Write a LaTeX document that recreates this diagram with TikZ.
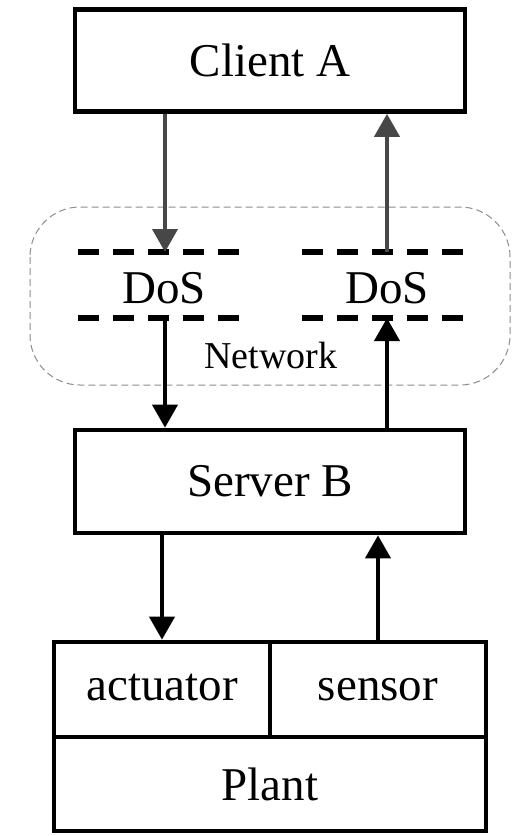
\documentclass[tikz,border=0pt]{standalone}
\usepackage{fontspec}
\setmainfont{Liberation Serif}
\usetikzlibrary{arrows.meta}

\tikzset{
  blk/.style={draw, line width=2.3pt, minimum width=195pt, minimum height=51pt,
    inner sep=0pt, font=\fontsize{23.5}{28}\selectfont},
  cell/.style={blk, minimum width=108pt, minimum height=47.5pt,
    text height=16pt, text depth=5pt},
  link/.style={line width=2pt, -{Triangle[length=11.5pt,width=12.5pt]}},
  glink/.style={link, draw=black!72},
  dosline/.style={line width=2.6pt, dash pattern=on 10.5pt off 7pt},
  netbox/.style={draw=black!45, line width=0.5pt, dash pattern=on 3.5pt off 2pt,
    rounded corners=25pt},
  lbl/.style={font=\fontsize{23.5}{28}\selectfont}
}

\begin{document}
\begin{tikzpicture}[x=0.5pt, y=-0.5pt]
    \useasboundingbox (0,0) rectangle (518,836);
    % network cloud
    \draw[netbox] (30,207) rectangle (510,385);
    \node[font=\fontsize{19}{22}\selectfont] (network) at (271,355) {Network};
    % blocks
    \node[blk] (client) at (270,60.5) {Client A};
    \node[blk, minimum height=51.5pt] (server) at (270,481.5) {Server B};
    \node[cell] (actuator) at (162,689.5) {actuator};
    \node[cell] (sensor) at (378,689.5) {sensor};
    \node[blk, minimum width=216pt, minimum height=47pt] (plant) at (270,784) {Plant};
    % DoS channels
    \node[lbl] (dosA) at (164,288) {DoS};
    \node[lbl] (dosB) at (387,288) {DoS};
    \coordinate (atkAtop) at (165,252);
    \coordinate (atkAbot) at (165,318);
    \coordinate (atkBtop) at (387,252);
    \coordinate (atkBbot) at (387,318);
    \draw[dosline] (78,252) -- (243,252);
    \draw[dosline] (78,318) -- (243,318);
    \draw[dosline] (302,252) -- (467,252);
    \draw[dosline] (302,318) -- (467,318);
    % links
    \draw[glink] (client.south -| atkAtop) -- (atkAtop);
    \draw[glink] (atkBtop) -- (client.south -| atkBtop);
    \draw[link] (atkAbot) -- (server.north -| atkAbot);
    \draw[link] (server.north -| atkBbot) -- (atkBbot);
    \draw[link] (server.south -| actuator) -- (actuator.north);
    \draw[link] (sensor.north) -- (server.south -| sensor);
\end{tikzpicture}
\end{document}
